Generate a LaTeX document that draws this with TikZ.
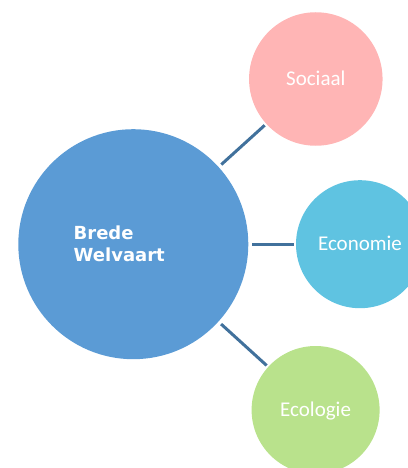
\documentclass[tikz,border=0pt]{standalone}
\usepackage{fontspec}
\setmainfont{Carlito}
\newfontfamily\headfont{DejaVu Sans}
\definecolor{bigblue}{HTML}{5B9BD5}
\definecolor{socpink}{HTML}{FFB5B5}
\definecolor{ecocyan}{HTML}{5FC3E1}
\definecolor{ecogreen}{HTML}{B9E28C}
\definecolor{linec}{HTML}{41719C}
\begin{document}
\begin{tikzpicture}[x=1pt,y=-1pt,
  bub/.style={circle, inner sep=0pt, draw=none, text=white,
    font=\fontsize{21}{25}\selectfont, text height=13.5pt, text depth=0pt},
  head/.style={anchor=base west, inner sep=0pt, text=white,
    font=\headfont\bfseries\fontsize{18}{22}\selectfont},
  conn/.style={draw=linec, line width=3pt, shorten <=3.5pt, shorten >=2pt}]
\useasboundingbox (0,0) rectangle (407,468);
\node[bub, fill=bigblue, minimum size=230pt] (big) at (133.3,244.2) {};
\node[bub, fill=socpink, minimum size=133.5pt] (soc) at (315.8,79) {Sociaal};
\node[bub, fill=ecocyan, minimum size=128pt] (eco) at (360,244.2) {Economie};
\node[bub, fill=ecogreen, minimum size=128pt] (ecl) at (315.6,410) {Ecologie};
\node[head] (bw1) at (73.5,239.7) {Brede};
\node[head] (bw2) at (73.5,261.7) {Welvaart};
\draw[conn] (big) -- (soc);
\draw[conn] (big) -- (eco);
\draw[conn] (big) -- (ecl);
\end{tikzpicture}
\end{document}
